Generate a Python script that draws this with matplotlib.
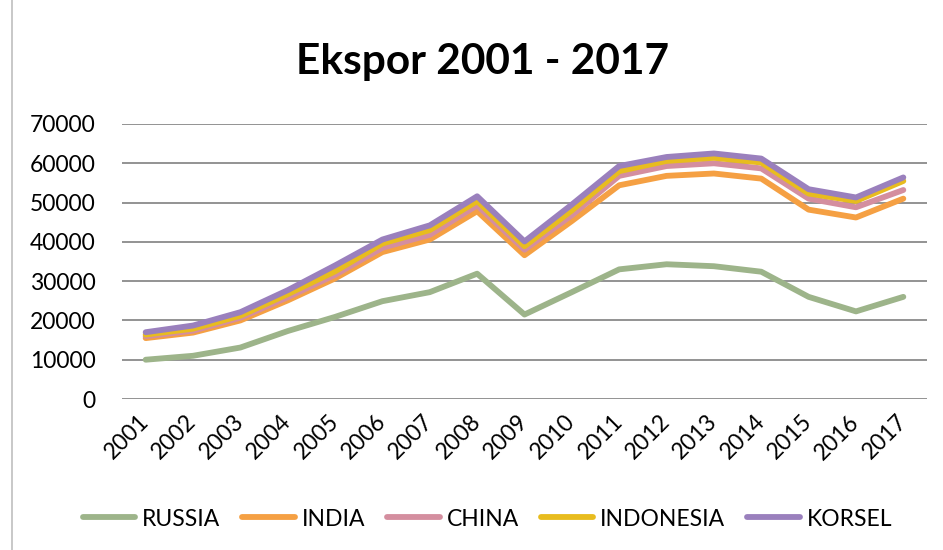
import numpy as np
import matplotlib
matplotlib.use('Agg')
import matplotlib.pyplot as plt
from matplotlib.lines import Line2D

plt.rcParams['font.family'] = ['Lato', 'DejaVu Sans']

# data
years = ['2001', '2002', '2003', '2004', '2005', '2006', '2007', '2008', '2009',
         '2010', '2011', '2012', '2013', '2014', '2015', '2016', '2017']
russia = [10000, 11000, 13100, 17300, 20900, 24900, 27200, 31900, 21500,
          27200, 33000, 34300, 33800, 32400, 26000, 22300, 26000]
india = [15500, 16900, 20000, 25100, 30700, 37400, 40600, 47800, 36600,
         45300, 54400, 56800, 57400, 56100, 48200, 46200, 51000]
china = [16000, 17400, 20700, 25900, 31600, 38500, 41800, 49300, 38000,
         46800, 56800, 59300, 60000, 58700, 51000, 48800, 53200]
indonesia = [16400, 17900, 21200, 26700, 32500, 39600, 43000, 50400, 38900,
             48000, 58000, 60600, 61400, 60200, 52300, 50400, 55500]
korsel = [17000, 18700, 22100, 27700, 34000, 40600, 44200, 51600, 40100,
          49500, 59300, 61600, 62500, 61200, 53400, 51300, 56400]

series = [('RUSSIA', russia, '#9DB48A'),
          ('INDIA', india, '#F5A043'),
          ('CHINA', china, '#D48E9F'),
          ('INDONESIA', indonesia, '#E8BC1E'),
          ('KORSEL', korsel, '#9A80BD')]

fig = plt.figure(figsize=(9.43, 5.5), dpi=100)
ax = fig.add_axes([122 / 943, 1 - 399 / 550, (927 - 122) / 943, (399 - 124) / 550])

x = np.arange(len(years))
for name, vals, col in series:
    ax.plot(x, vals, color=col, lw=4.2, label=name, solid_capstyle='round',
            solid_joinstyle='round')

ax.set_xlim(-0.5, len(years) - 0.5)
ax.set_ylim(0, 70000)
ax.set_yticks(np.arange(0, 70001, 10000))
ax.yaxis.grid(True, color='#939393', lw=1.4)
ax.set_axisbelow(True)
for s in ax.spines.values():
    s.set_visible(False)
ax.tick_params(axis='y', length=0, pad=19, labelsize=16.5)
ax.tick_params(axis='x', length=0, pad=14, labelsize=16.5)
ax.set_xticks(x)
ax.set_xticklabels(years, rotation=45, ha='right', va='center', rotation_mode='anchor')

fig.text(0.512, 1 - 62 / 550, 'Ekspor 2001 - 2017', ha='center', va='center',
         fontsize=30.5, fontweight='bold')

fig.legend(loc='center', bbox_to_anchor=(0.517, 1 - 519 / 550), ncol=5,
           frameon=False, fontsize=16.5, handlelength=2.3, handletextpad=0.3,
           columnspacing=0.95)

# chart border
fig.add_artist(Line2D([12 / 943, 12 / 943], [0, 1], color='#BFBFBF', lw=1.2))

fig.savefig('out.png', dpi=100)
